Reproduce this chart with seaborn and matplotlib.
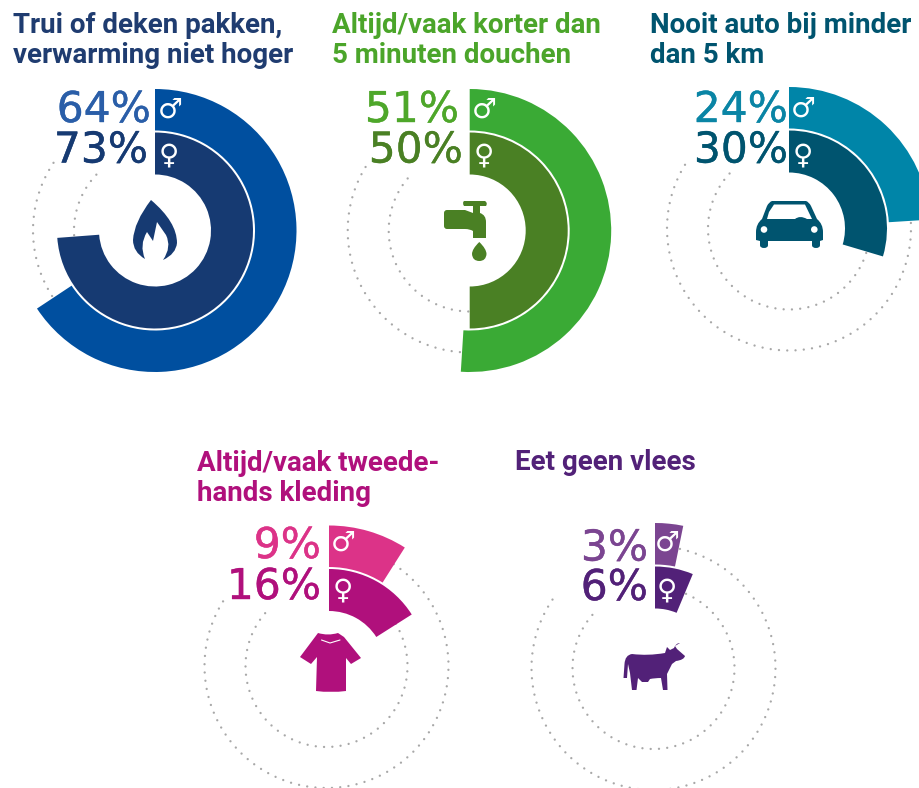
import numpy as np
import matplotlib
matplotlib.use("Agg")
import matplotlib.pyplot as plt
import matplotlib.patheffects as pe
import seaborn as sns
from matplotlib.path import Path
from matplotlib.patches import PathPatch, Circle

W, H = 919, 788
R_MAX = 145.0
GUIDE_OUTER, GUIDE_INNER = 122.0, 81.0
RINGS = {"male": (100.0, 141.5), "female": (56.0, 98.0)}

titles = [
    "Trui of deken pakken,\nverwarming niet hoger",
    "Altijd/vaak korter dan\n5 minuten douchen",
    "Nooit auto bij minder\ndan 5 km",
    "Altijd/vaak tweede-\nhands kleding",
    "Eet geen vlees",
]
male_labels = ["64%", "51%", "24%", "9%", "3%"]
female_labels = ["73%", "50%", "30%", "16%", "6%"]
male_drawn = [65.7, 51.0, 24.0, 9.0, 3.2]
female_drawn = [73.8, 50.0, 29.6, 16.0, 6.3]
male_colors = ["#004f9f", "#3aaa35", "#0085a8", "#dc3388", "#7b4591"]
female_colors = ["#163a72", "#4a8024", "#00546f", "#b0107c", "#522178"]
male_text = ["#2a5ea8", "#4ea72a", "#0a85a5", "#dc3388", "#7b4591"]
title_colors = ["#1f3c70", "#4ba52a", "#00546f", "#b0107c", "#522178"]

centers = [(155, 230.5), (469.7, 230.5), (789, 228.5), (329, 667), (655, 664.5)]
guide_centers = [(155, 230.5), (469.7, 230.5), (789, 228.5), (326.5, 666), (653.5, 668)]
title_pos = [(13, 33), (332, 33), (650, 33), (197, 471), (515, 470)]
male_lab_pos = [(151, 122), (459, 122), (788, 122), (321, 558), (648, 560.5)]
fem_lab_pos = [(148, 162.5), (463, 162.5), (788, 162.5), (321, 599), (648, 600)]
male_sym = [(170, 110), (484.3, 110), (803.3, 109), (343.3, 543), (667.3, 543)]
fem_sym = [(169, 155), (484.3, 155), (803.3, 155), (343.3, 590), (667.3, 590)]

sns.set_theme(style="white")
plt.rcParams["font.family"] = ["DejaVu Sans"]
fig = plt.figure(figsize=(W / 100, H / 100), dpi=100, facecolor="white")


def polar_axes(cx, cy):
    rect = [(cx - R_MAX) / W, 1 - (cy + R_MAX) / H, 2 * R_MAX / W, 2 * R_MAX / H]
    ax = fig.add_axes(rect, projection="polar")
    ax.set_theta_zero_location("N")
    ax.set_theta_direction(-1)
    ax.set_rlim(0, R_MAX)
    ax.set_axis_off()
    ax.patch.set_alpha(0)
    return ax


def to_rad(pct):
    return np.deg2rad(pct * 3.6)


for i in range(5):
    gax = polar_axes(*guide_centers[i])
    for radius, end_deg, share in (
        (GUIDE_OUTER, 305, male_drawn[i]),
        (GUIDE_INNER, 315, female_drawn[i]),
    ):
        th = np.deg2rad(np.linspace(share * 3.6 + 1, end_deg, 400))
        sns.lineplot(
            x=th, y=np.full_like(th, radius), ax=gax, color="#a8a8a8", sort=False,
            errorbar=None, lw=1.7, linestyle=(0, (0.01, 3.5)),
            dash_capstyle="round", legend=False,
        )
    gax.set_rlim(0, R_MAX)
    gax.set_axis_off()

    ax = polar_axes(*centers[i])
    for ring, share, color in (
        ("male", male_drawn[i], male_colors[i]),
        ("female", female_drawn[i], female_colors[i]),
    ):
        r0, r1 = RINGS[ring]
        ax.bar(0, r1 - r0, width=to_rad(share), bottom=r0, align="edge",
               color=color, linewidth=0)
    ax.set_rlim(0, R_MAX)

over = fig.add_axes([0, 0, 1, 1], zorder=10)
over.set_xlim(0, W)
over.set_ylim(H, 0)
over.set_axis_off()
over.patch.set_alpha(0)

TITLE_FONT = dict(family="Roboto", weight="bold", fontsize=20)
LABEL_FONT = dict(family="DejaVu Sans", fontsize=30.5)
for i in range(5):
    x, y = title_pos[i]
    for j, line in enumerate(titles[i].split("\n")):
        over.text(x, y + j * 29.5, line, color=title_colors[i], ha="left",
                  va="baseline", **TITLE_FONT)
    for pos, label, color in ((male_lab_pos[i], male_labels[i], male_text[i]),
                              (fem_lab_pos[i], female_labels[i], female_colors[i])):
        t = over.text(*pos, label, color=color, ha="right", va="baseline", **LABEL_FONT)
        t.set_path_effects([pe.withStroke(linewidth=0.3, foreground=color)])
    over.text(*male_sym[i], "\u2642", color="white", ha="center", va="center",
              family="DejaVu Sans", weight="bold", fontsize=20)
    over.text(*fem_sym[i], "\u2640", color="white", ha="center", va="center",
              family="DejaVu Sans", weight="bold", fontsize=20)


def icon(cmds, color):
    verts, codes = [], []
    for c in cmds:
        if c[0] == "M":
            verts.append(c[1:]); codes.append(Path.MOVETO)
        elif c[0] == "L":
            verts.append(c[1:]); codes.append(Path.LINETO)
        elif c[0] == "Q":
            verts += [c[1:3], c[3:5]]; codes += [Path.CURVE3, Path.CURVE3]
    verts.append(verts[0]); codes.append(Path.CLOSEPOLY)
    over.add_patch(PathPatch(Path(verts, codes), facecolor=color, edgecolor="none"))


# flame
icon([("M", 145, 259), ("Q", 133, 252, 133, 240), ("Q", 134, 222, 151, 200),
      ("Q", 177, 222, 177, 243), ("Q", 176, 254, 163, 260), ("Q", 172, 247, 166, 235),
      ("L", 157, 222), ("L", 153, 241), ("L", 147, 232), ("Q", 139, 245, 145, 259)],
     female_colors[0])
# tap
tap = female_colors[1]
icon([("M", 447, 210), ("L", 465, 210), ("L", 473, 213), ("L", 473, 206), ("L", 464, 206),
      ("Q", 462, 203, 464, 201), ("L", 485, 201), ("Q", 488, 203, 486, 206), ("L", 480, 206),
      ("L", 480, 213), ("Q", 486, 215, 486, 222), ("L", 486, 238), ("L", 473, 238),
      ("L", 473, 231), ("Q", 470, 229, 465, 229), ("L", 447, 229), ("Q", 444, 229, 444, 226),
      ("L", 444, 213), ("Q", 444, 210, 447, 210)], tap)
icon([("M", 479.3, 242), ("Q", 486.5, 249, 486.5, 254), ("Q", 486, 261, 479.3, 261),
      ("Q", 472.5, 261, 472, 254), ("Q", 472, 249, 479.3, 242)], tap)
# car
car = female_colors[2]
icon([("M", 772, 201), ("L", 806, 201), ("Q", 809, 202, 811, 206), ("L", 817, 219),
      ("Q", 823, 224, 823, 232), ("L", 823, 240), ("L", 820, 241), ("L", 820, 245),
      ("Q", 820, 248, 816, 248), ("Q", 812, 248, 812, 245), ("L", 812, 241), ("L", 768, 241),
      ("L", 768, 245), ("Q", 768, 248, 764, 248), ("Q", 760, 248, 760, 245), ("L", 760, 241),
      ("L", 756, 240), ("L", 756, 232), ("Q", 756, 224, 762, 219), ("L", 767, 206),
      ("Q", 769, 202, 772, 201)], car)
icon([("M", 774, 204.5), ("L", 805, 204.5), ("L", 812, 219), ("L", 807, 219),
      ("Q", 800, 215, 795, 219), ("L", 767, 219), ("L", 769, 212)], "white")
over.add_patch(Circle((764, 229.5), 3.3, facecolor="white", edgecolor="none"))
over.add_patch(Circle((814.3, 229.5), 3.3, facecolor="white", edgecolor="none"))
# shirt
icon([("M", 318, 633), ("Q", 328, 636, 338, 633), ("L", 344, 637), ("L", 361, 658),
      ("L", 351, 664), ("L", 346, 658), ("L", 346, 691), ("Q", 331, 693, 316, 691),
      ("L", 317, 657), ("L", 311, 664), ("L", 300, 657), ("L", 315, 637)], female_colors[3])
over.plot([321.5, 330, 340], [640, 643, 640], color="white", lw=0.8)
# cow
icon([("M", 623.5, 678), ("L", 624.5, 664), ("Q", 625, 655, 632, 654), ("Q", 648, 656, 665, 653),
      ("L", 667, 647), ("L", 670, 650), ("L", 674, 648), ("Q", 676, 643, 680, 643),
      ("L", 675, 646), ("L", 677, 649), ("L", 685, 656), ("Q", 684, 660, 676, 661),
      ("L", 672, 664), ("L", 667, 674), ("L", 667.5, 690), ("L", 663, 690), ("L", 661, 678),
      ("Q", 655, 678, 650, 679), ("L", 648, 682), ("L", 642, 682), ("L", 638, 678),
      ("L", 636.5, 690), ("L", 632, 690), ("L", 630, 673), ("L", 628, 664), ("L", 627, 678)],
     female_colors[4])

fig.savefig("out.png", dpi=100, facecolor="white")
